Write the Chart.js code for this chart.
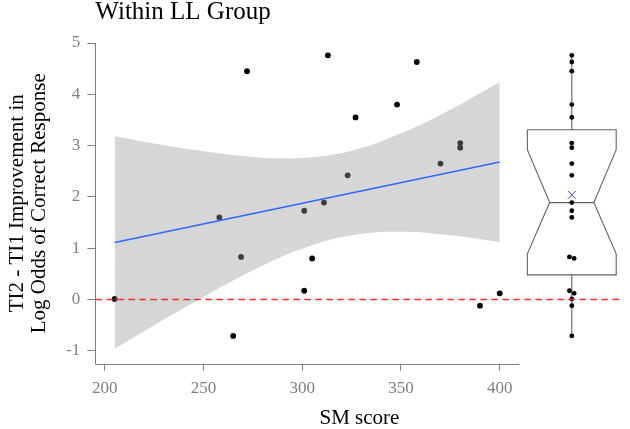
<!DOCTYPE html>
<html>
<head>
<meta charset="utf-8">
<script src="https://cdn.jsdelivr.net/npm/chart.js@4"></script>
<style>
html, body { margin: 0; padding: 0; background: #fff; }
#wrap { width: 630px; height: 429px; }
</style>
</head>
<body>
<div id="wrap"><canvas id="chart" width="630" height="429"></canvas></div>
<script>
// data
const smScore = [205, 258, 265, 269, 272, 301, 301, 305, 311, 313, 323, 327, 348, 358, 370, 380, 380, 390, 400];
const improvement = [0.01, 1.60, -0.71, 0.83, 4.45, 0.17, 1.73, 0.80, 1.89, 4.76, 2.42, 3.55, 3.80, 4.63, 2.65, 3.05, 2.96, -0.12, 0.12];

// linear fit and its 95% band
const fitX = [205, 400];
const fitY = [1.11, 2.68];
const bandX = [205, 225, 250, 275, 300, 325, 350, 375, 400];
const bandHigh = [3.18, 3.04, 2.89, 2.78, 2.76, 2.90, 3.24, 3.70, 4.24];
const bandLow = [-0.96, -0.50, 0.05, 0.57, 0.99, 1.25, 1.32, 1.25, 1.12];

const xTicks = [200, 250, 300, 350, 400];
const yTicks = [-1, 0, 1, 2, 3, 4, 5];

// notched boxplot of the improvement values
const boxQ1 = 0.48, boxMedian = 1.89, boxQ3 = 3.31;
const notchLow = 0.89, notchHigh = 2.92;
const whiskerLow = -0.71, whiskerHigh = 4.76;
const boxMean = 2.04;

// layout stuff
const xMin = 195.2, xMax = 462.7, axisEnd = 410;
const boxX = 436.5, boxHalf = 22.5, notchHalf = 11.2, jitter = 1.2;
const grey = '#808080';
const boxLine = '#616161';

Chart.defaults.font.family = '"Liberation Serif", "Times New Roman", serif';

const pts = smScore.map((x, i) => ({x: x, y: improvement[i]}));
const band = (arr) => bandX.map((x, i) => ({x: x, y: arr[i]}));

const L = boxX - boxHalf, R = boxX + boxHalf;
const nL = boxX - notchHalf, nR = boxX + notchHalf;
const boxOutline = [
    {x: L, y: boxQ3}, {x: R, y: boxQ3}, {x: R, y: notchHigh}, {x: nR, y: boxMedian},
    {x: R, y: notchLow}, {x: R, y: boxQ1}, {x: L, y: boxQ1}, {x: L, y: notchLow},
    {x: nL, y: boxMedian}, {x: L, y: notchHigh}, {x: L, y: boxQ3}
];

const sorted = improvement.slice().sort((a, b) => a - b);
const boxPoints = sorted.map((v, i) => {
    const close = (i > 0 && v - sorted[i - 1] < 0.06) || (i < sorted.length - 1 && sorted[i + 1] - v < 0.06);
    return {x: boxX + (close ? (i % 2 ? jitter : -jitter) : 0), y: v};
});

const lineSet = (data, color, width, order, extra) => Object.assign({
    type: 'line', data: data, borderColor: color, borderWidth: width,
    pointRadius: 0, fill: false, tension: 0, order: order
}, extra || {});

const extras = {
    id: 'extras',
    afterDraw(chart) {
        const {ctx, chartArea, scales} = chart;
        ctx.save();
        // x axis line stops where the scatter panel ends
        ctx.strokeStyle = grey;
        ctx.lineWidth = 1;
        ctx.beginPath();
        ctx.moveTo(chartArea.left, Math.round(chartArea.bottom) + 0.5);
        ctx.lineTo(scales.x.getPixelForValue(axisEnd), Math.round(chartArea.bottom) + 0.5);
        ctx.stroke();
        ctx.fillStyle = '#000';
        ctx.font = '25px "Liberation Serif"';
        ctx.textBaseline = 'alphabetic';
        ctx.fillText('Within LL Group', chartArea.left, 18.5);
        ctx.restore();
    }
};

new Chart(document.getElementById('chart'), {
    type: 'scatter',
    data: {
        datasets: [
            {
                data: pts, backgroundColor: '#000', borderWidth: 0,
                pointRadius: 2.9, order: 6
            },
            lineSet(band(bandHigh), 'rgba(0,0,0,0)', 0, 4, {
                fill: '+1', backgroundColor: 'rgba(153,153,153,0.4)', tension: 0.4
            }),
            lineSet(band(bandLow), 'rgba(0,0,0,0)', 0, 4, {tension: 0.4}),
            lineSet(fitX.map((x, i) => ({x: x, y: fitY[i]})), '#3366ff', 1.6, 3),
            lineSet([{x: xMin, y: 0}, {x: xMax, y: 0}], '#ff2a2a', 1.4, 1, {borderDash: [6.5, 4.5]}),
            lineSet(boxOutline, boxLine, 1.1, 5),
            lineSet([{x: nL, y: boxMedian}, {x: nR, y: boxMedian}], boxLine, 1.3, 5),
            lineSet([{x: boxX, y: boxQ3}, {x: boxX, y: whiskerHigh}], boxLine, 1.1, 5),
            lineSet([{x: boxX, y: boxQ1}, {x: boxX, y: whiskerLow}], boxLine, 1.1, 5),
            {
                data: boxPoints, backgroundColor: '#000', borderWidth: 0,
                pointRadius: 2.4, order: 2
            },
            {
                data: [{x: boxX, y: boxMean}], pointStyle: 'crossRot', pointRadius: 5.5,
                borderColor: '#3c3cff', borderWidth: 1, backgroundColor: 'rgba(0,0,0,0)', order: 0
            }
        ]
    },
    options: {
        responsive: false,
        animation: false,
        events: [],
        layout: {padding: {top: 43, right: 2, bottom: 0, left: 0}},
        plugins: {legend: {display: false}, tooltip: {enabled: false}},
        scales: {
            x: {
                type: 'linear', min: xMin, max: xMax,
                afterBuildTicks: (s) => { s.ticks = xTicks.map(v => ({value: v})); },
                border: {display: false},
                grid: {drawOnChartArea: false, drawTicks: true, tickLength: 7, color: grey},
                ticks: {color: grey, font: {size: 17}, padding: 7.5, maxRotation: 0},
                title: {
                    display: true, text: 'SM score', color: '#000',
                    font: {size: 21, lineHeight: 1}, padding: {top: 2, bottom: 0}
                }
            },
            y: {
                min: -1.25, max: 5,
                afterBuildTicks: (s) => { s.ticks = yTicks.map(v => ({value: v})); },
                border: {display: true, color: grey, width: 1},
                grid: {drawOnChartArea: false, drawTicks: true, tickLength: 8, color: grey},
                ticks: {color: grey, font: {size: 17}, padding: 7},
                title: {
                    display: true, text: ['TI2 - TI1 Improvement in', 'Log Odds of Correct Response'],
                    color: '#000', font: {size: 21, lineHeight: 22 / 21},
                    padding: {top: 6, bottom: 9.2}
                }
            }
        }
    },
    plugins: [extras]
});
</script>
</body>
</html>
